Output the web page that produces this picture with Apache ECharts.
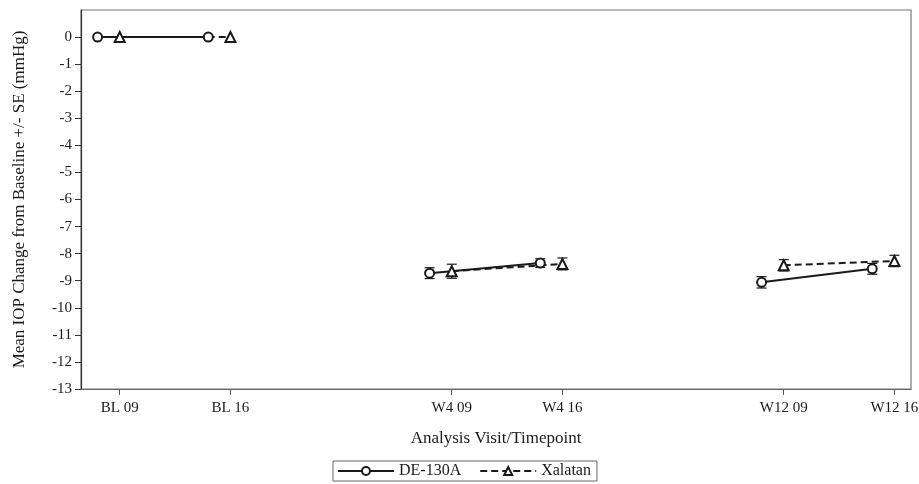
<!DOCTYPE html>
<html>
<head>
<meta charset="utf-8">
<script src="https://cdn.jsdelivr.net/npm/echarts@6/dist/echarts.min.js"></script>
<style>
  html, body { margin: 0; padding: 0; background: #fff; }
  #chart { width: 919px; height: 484px; }
</style>
</head>
<body>
<div id="chart"></div>
<script>
// Visits and time of day
const visits = ['BL', 'W4', 'W12'];
const timepoints = ['09', '16'];

// Mean IOP change from baseline (mmHg) and its SE, one entry per visit/timepoint
const deMean  = [0, 0, -8.72, -8.35, -9.06, -8.56];
const deSE    = [0, 0, 0.20, 0.16, 0.21, 0.20];
const xalMean = [0, 0, -8.65, -8.38, -8.43, -8.27];
const xalSE   = [0, 0, 0.26, 0.22, 0.21, 0.21];

// Y tick labels
const yTicks = [0, -1, -2, -3, -4, -5, -6, -7, -8, -9, -10, -11, -12, -13];

// Axis layout: the two timepoints of a visit are one unit apart, visits leave a one-unit gap
const slots = [];
visits.forEach((v, vi) => timepoints.forEach((t, ti) => {
  slots.push({ pos: vi * 3 + ti, label: v + ' ' + t, visit: vi });
}));
const labelByPos = {};
slots.forEach(s => { labelByPos[s.pos] = s.label; });
const dodge = -0.2; // DE-130A drawn slightly left of the tick

const FONT = 'Liberation Serif';
const INK = '#1a1a1a';

function lineSeries(name, means, offset, symbol, dash) {
  return visits.map((v, vi) => ({
    name: name,
    type: 'line',
    symbol: symbol,
    symbolSize: symbol === 'emptyCircle' ? 9 : 10,
    showSymbol: true,
    animation: false,
    itemStyle: { color: INK, borderWidth: 1.3 },
    lineStyle: { color: INK, width: 2, type: dash },
    z: 3,
    data: slots.filter(s => s.visit === vi)
               .map(s => [s.pos + offset, means[slots.indexOf(s)]])
  }));
}

function errorSeries(name, means, ses, offset) {
  return {
    name: name,
    type: 'custom',
    animation: false,
    z: 2,
    data: slots.map((s, i) => [s.pos + offset, means[i], ses[i]]).filter(d => d[2] > 0),
    encode: { x: 0, y: 1 },
    renderItem: function (params, api) {
      const x = api.value(0), m = api.value(1), se = api.value(2);
      const lo = api.coord([x, m - se]);
      const hi = api.coord([x, m + se]);
      const w = 5;
      const style = { stroke: INK, lineWidth: 1.2 };
      return {
        type: 'group',
        children: [
          { type: 'line', shape: { x1: lo[0], y1: lo[1], x2: hi[0], y2: hi[1] }, style: style },
          { type: 'line', shape: { x1: lo[0] - w, y1: lo[1], x2: lo[0] + w, y2: lo[1] }, style: style },
          { type: 'line', shape: { x1: hi[0] - w, y1: hi[1], x2: hi[0] + w, y2: hi[1] }, style: style }
        ]
      };
    }
  };
}

const chart = echarts.init(document.getElementById('chart'), null, { renderer: 'canvas' });
chart.setOption({
  animation: false,
  backgroundColor: '#fff',
  textStyle: { fontFamily: FONT, color: INK },
  grid: {
    left: 81, top: 10, width: 830, height: 379,
    containLabel: false,
    outerBoundsMode: 'none',
    show: true, borderColor: '#777', borderWidth: 1.2
  },
  legend: {
    data: ['DE-130A', 'Xalatan'],
    left: 333, top: 461,
    orient: 'horizontal',
    itemWidth: 56, itemHeight: 10,
    itemGap: 18,
    padding: [2, 6, 2, 4],
    borderColor: '#666', borderWidth: 1,
    textStyle: { fontFamily: FONT, fontSize: 16, color: INK }
  },
  xAxis: {
    type: 'value',
    min: -0.35, max: 7.15,
    name: 'Analysis Visit/Timepoint',
    nameLocation: 'middle',
    nameGap: 41,
    nameTextStyle: { fontFamily: FONT, fontSize: 17, color: INK },
    splitLine: { show: false },
    axisLine: { show: true, onZero: false, lineStyle: { color: '#666', width: 1.2 } },
    axisTick: { show: true, length: 6, customValues: slots.map(s => s.pos), lineStyle: { color: '#555' } },
    axisLabel: {
      customValues: slots.map(s => s.pos),
      formatter: v => labelByPos[v] || '',
      fontFamily: FONT, fontSize: 15, color: INK, margin: 12
    }
  },
  yAxis: {
    type: 'value',
    min: -13, max: 1,
    name: 'Mean IOP Change from Baseline +/- SE (mmHg)',
    nameLocation: 'middle',
    nameGap: 53,
    nameTextStyle: { fontFamily: FONT, fontSize: 17, color: INK },
    splitLine: { show: false },
    axisLine: { show: true, onZero: false, lineStyle: { color: '#333', width: 1.2 } },
    axisTick: { show: true, length: 6, customValues: yTicks, lineStyle: { color: '#333' } },
    axisLabel: {
      customValues: yTicks,
      fontFamily: FONT, fontSize: 15, color: INK, margin: 9
    }
  },
  series: [
    ...lineSeries('DE-130A', deMean, dodge, 'emptyCircle', 'solid'),
    ...lineSeries('Xalatan', xalMean, 0, 'emptyTriangle', [7, 4]),
    errorSeries('DE-130A', deMean, deSE, dodge),
    errorSeries('Xalatan', xalMean, xalSE, 0)
  ]
});
</script>
</body>
</html>
